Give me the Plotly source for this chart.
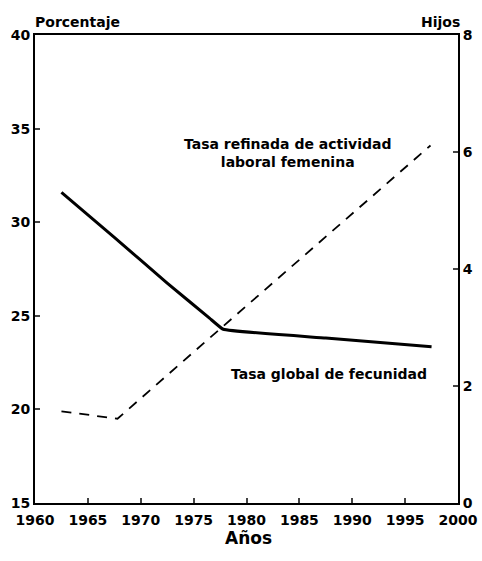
import plotly.graph_objects as go

# Data
years_fec = [1962.5, 1967.5, 1972.5, 1976.5, 1977.8, 1987.5, 1997.5]
fecundidad = [5.31, 4.54, 3.76, 3.16, 2.97, 2.82, 2.67]          # Hijos (right axis)

years_act = [1962.5, 1967.8, 1977.5, 1987.5, 1997.4]
actividad = [19.9, 19.5, 24.3, 29.2, 34.1]                          # Porcentaje (left axis)

x_ticks = [1960, 1965, 1970, 1975, 1980, 1985, 1990, 1995, 2000]
left_ticks = [15, 20, 25, 30, 35, 40]
right_ticks = [0, 2, 4, 6, 8]

FONT = "DejaVu Sans"
TICKFONT = dict(family=FONT, size=14, weight="bold", color="black")

fig = go.Figure()
fig.add_trace(go.Scatter(x=years_act, y=actividad, mode="lines",
                         line=dict(color="black", width=1.8, dash="10px,8px"),
                         yaxis="y", showlegend=False))
fig.add_trace(go.Scatter(x=years_fec, y=fecundidad, mode="lines",
                         line=dict(color="black", width=3, shape="spline", smoothing=0.3),
                         yaxis="y2", showlegend=False))

fig.update_layout(
    width=482, height=561,
    margin=dict(l=35, r=24, t=35, b=58),
    paper_bgcolor="white", plot_bgcolor="white",
    font=dict(family=FONT, color="black", size=13),
    xaxis=dict(range=[1960, 2000], tickvals=x_ticks, ticks="inside", ticklen=5,
               tickwidth=1.5, showline=True, linewidth=2, linecolor="black",
               mirror=True, showgrid=False, zeroline=False, automargin=False,
               ticklabelstandoff=3, tickfont=TICKFONT),
    yaxis=dict(range=[15, 40], tickvals=left_ticks, ticks="inside", ticklen=5,
               tickwidth=1.5, showline=True, linewidth=2, linecolor="black",
               showgrid=False, zeroline=False, automargin=False,
               tickfont=TICKFONT),
    yaxis2=dict(range=[0, 8], tickvals=right_ticks, ticks="inside", ticklen=5,
                tickwidth=1.5, showline=True, linewidth=2, linecolor="black",
                overlaying="y", side="right", showgrid=False, zeroline=False,
                automargin=False, tickfont=TICKFONT),
    annotations=[
        dict(text="<b>Porcentaje</b>", xref="paper", yref="paper", x=0, y=1,
             xanchor="left", yanchor="middle", yshift=13, xshift=-2, showarrow=False,
             font=dict(family=FONT, size=14)),
        dict(text="<b>Hijos</b>", xref="paper", yref="paper", x=1, y=1,
             xanchor="right", yanchor="middle", yshift=13, xshift=4, showarrow=False,
             font=dict(family=FONT, size=14)),
        dict(text="<b>Años</b>", xref="paper", yref="paper", x=0.504, y=0,
             xanchor="center", yanchor="middle", yshift=-35, showarrow=False,
             font=dict(family=FONT, size=17)),
        dict(text="<b>Tasa refinada de actividad<br>laboral femenina</b>",
             xref="x", yref="y", x=1983.9, y=33.7, showarrow=False,
             xanchor="center", yanchor="middle", align="center",
             font=dict(family=FONT, size=14)),
        dict(text="<b>Tasa global de fecunidad</b>",
             xref="x", yref="y", x=1987.8, y=21.9, showarrow=False,
             xanchor="center", yanchor="middle",
             font=dict(family=FONT, size=14)),
    ],
)

fig.write_html("out.html", config={"displayModeBar": False},
               post_script="document.body.style.margin='0';")
